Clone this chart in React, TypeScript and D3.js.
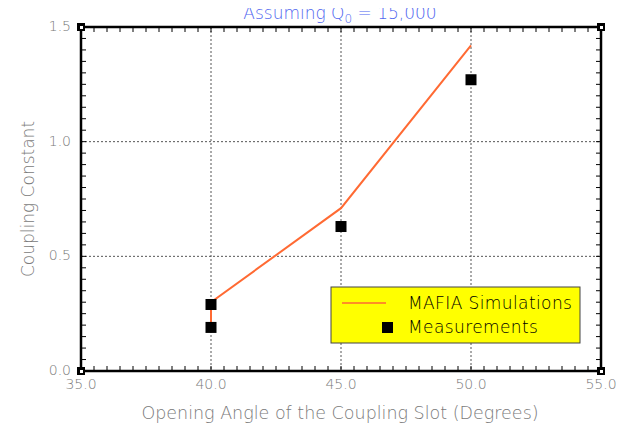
import React, { useEffect, useRef } from 'react';
import { select, scaleLinear, line, range } from 'd3';

// simulation curve (MAFIA)
const simAngles = [40, 40, 45, 50];
const simValues = [0.19, 0.3, 0.71, 1.42];

// measured points
const measAngles = [40, 40, 45, 50];
const measValues = [0.29, 0.19, 0.63, 1.27];

const xTicks = [35, 40, 45, 50, 55];
const yTicks = [0, 0.5, 1.0, 1.5];

const App = () => {
  const svgRef = useRef(null);

  useEffect(() => {
    const svg = select(svgRef.current);
    svg.selectAll('*').remove();

    const left = 81;
    const right = 601;
    const top = 27;
    const bottom = 371;

    const x = scaleLinear().domain([35, 55]).range([left, right]);
    const y = scaleLinear().domain([0, 1.5]).range([bottom, top]);

    const font = 'DejaVu Sans';
    const gray = '#7a7a7a';

    // dotted grid
    xTicks.slice(1, -1).forEach((t) => {
      svg.append('line')
        .attr('x1', x(t)).attr('x2', x(t))
        .attr('y1', top).attr('y2', bottom)
        .attr('stroke', '#555').attr('stroke-width', 1)
        .attr('stroke-dasharray', '2,2');
    });
    yTicks.slice(1, -1).forEach((t) => {
      svg.append('line')
        .attr('x1', left).attr('x2', right)
        .attr('y1', y(t)).attr('y2', y(t))
        .attr('stroke', '#555').attr('stroke-width', 1)
        .attr('stroke-dasharray', '2,2');
    });

    // minor ticks on all four sides, pointing inward
    range(35, 55.01, 0.5).forEach((t) => {
      svg.append('line')
        .attr('x1', x(t)).attr('x2', x(t))
        .attr('y1', bottom).attr('y2', bottom - 5)
        .attr('stroke', '#000');
      svg.append('line')
        .attr('x1', x(t)).attr('x2', x(t))
        .attr('y1', top).attr('y2', top + 5)
        .attr('stroke', '#000');
    });
    range(0, 1.501, 0.05).forEach((t) => {
      svg.append('line')
        .attr('x1', left).attr('x2', left + 5)
        .attr('y1', y(t)).attr('y2', y(t))
        .attr('stroke', '#000');
      svg.append('line')
        .attr('x1', right).attr('x2', right - 5)
        .attr('y1', y(t)).attr('y2', y(t))
        .attr('stroke', '#000');
    });

    // frame
    svg.append('rect')
      .attr('x', left).attr('y', top)
      .attr('width', right - left).attr('height', bottom - top)
      .attr('fill', 'none').attr('stroke', '#000').attr('stroke-width', 2.5);

    // little corner blocks
    [[left, top], [right, top], [left, bottom], [right, bottom]].forEach(([cx, cy]) => {
      svg.append('rect')
        .attr('x', cx - 4).attr('y', cy - 4)
        .attr('width', 8).attr('height', 8)
        .attr('fill', '#000');
      svg.append('rect')
        .attr('x', cx - 1).attr('y', cy - 1)
        .attr('width', 3).attr('height', 3)
        .attr('fill', '#fff');
    });

    // tick labels
    xTicks.forEach((t) => {
      svg.append('text')
        .attr('x', x(t)).attr('y', bottom + 18)
        .attr('text-anchor', 'middle')
        .attr('font-family', font).attr('font-size', 14).attr('font-weight', 200)
        .attr('fill', gray)
        .text(t.toFixed(1));
    });
    yTicks.forEach((t) => {
      svg.append('text')
        .attr('x', left - 10).attr('y', y(t) + 4)
        .attr('text-anchor', 'end')
        .attr('font-family', font).attr('font-size', 14).attr('font-weight', 200)
        .attr('fill', gray)
        .text(t.toFixed(1));
    });

    // axis titles
    svg.append('text')
      .attr('x', 340).attr('y', 419)
      .attr('text-anchor', 'middle')
      .attr('font-family', font).attr('font-size', 17.5).attr('font-weight', 200)
      .attr('fill', gray)
      .text('Opening Angle of the Coupling Slot (Degrees)');

    svg.append('text')
      .attr('transform', `translate(34, ${(top + bottom) / 2}) rotate(-90)`)
      .attr('text-anchor', 'middle')
      .attr('font-family', font).attr('font-size', 17).attr('font-weight', 200)
      .attr('fill', gray)
      .text('Coupling Constant');

    // title
    const title = svg.append('text')
      .attr('x', 340).attr('y', 19)
      .attr('text-anchor', 'middle')
      .attr('font-family', font).attr('font-size', 17).attr('font-weight', 200)
      .attr('fill', '#4f66f0');
    title.append('tspan').text('Assuming Q');
    title.append('tspan').attr('font-size', 12).attr('dy', 4).text('0');
    title.append('tspan').attr('dy', -4).text(' = 15,000');

    // simulation line
    const pts: [number, number][] = simAngles.map((a, i) => [a, simValues[i]]);
    const path = line<[number, number]>().x((d) => x(d[0])).y((d) => y(d[1]));
    svg.append('path')
      .attr('d', path(pts))
      .attr('fill', 'none')
      .attr('stroke', '#ff6a33')
      .attr('stroke-width', 2);

    // measurements
    measAngles.forEach((a, i) => {
      svg.append('rect')
        .attr('x', x(a) - 5.5).attr('y', y(measValues[i]) - 5.5)
        .attr('width', 11).attr('height', 11)
        .attr('fill', '#000');
    });

    // legend
    const lg = svg.append('g').attr('transform', 'translate(331, 287)');
    lg.append('rect')
      .attr('width', 249).attr('height', 56)
      .attr('fill', '#ffff00').attr('stroke', '#444').attr('stroke-width', 1);
    lg.append('line')
      .attr('x1', 11).attr('x2', 55).attr('y1', 16).attr('y2', 16)
      .attr('stroke', '#ff6a33').attr('stroke-width', 1.5);
    lg.append('rect')
      .attr('x', 51).attr('y', 35).attr('width', 11).attr('height', 11)
      .attr('fill', '#000');
    lg.append('text')
      .attr('x', 77).attr('y', 22)
      .attr('font-family', font).attr('font-size', 17).attr('font-weight', 200)
      .attr('letter-spacing', 0.4)
      .attr('fill', '#000')
      .text('MAFIA Simulations');
    lg.append('text')
      .attr('x', 77).attr('y', 46)
      .attr('font-family', font).attr('font-size', 17).attr('font-weight', 200)
      .attr('letter-spacing', 0.4)
      .attr('fill', '#000')
      .text('Measurements');
  }, []);

  return <svg ref={svgRef} width={624} height={431} style={{ display: 'block', margin: '-8px' }}></svg>;
};

export default App;
